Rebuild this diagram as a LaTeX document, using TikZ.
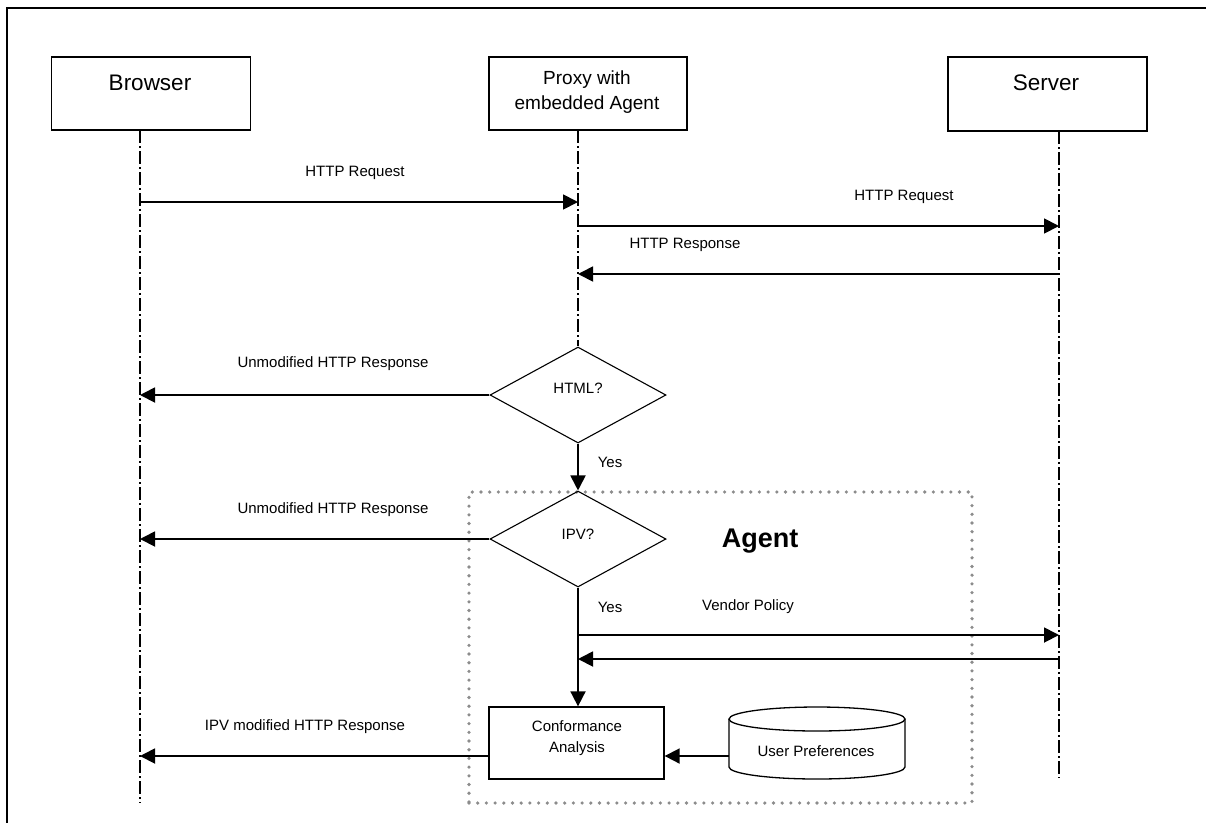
\documentclass[tikz,border=0pt]{standalone}
\usepackage{fontspec}
\setmainfont{Liberation Sans}
\usetikzlibrary{arrows.meta,shapes.geometric}
\begin{document}
\begin{tikzpicture}[x=1pt,y=-1pt,
  box/.style={draw,line width=1.3pt,inner sep=0pt},
  life/.style={line width=1.2pt,dash pattern=on 13pt off 3pt on 1.5pt off 3.5pt},
  msg/.style={line width=1.8pt,-{Triangle[length=15pt,width=15pt]}},
  lbl/.style={font=\fontsize{15}{18}\selectfont,inner sep=0pt},
  big/.style={font=\fontsize{22.5}{26}\selectfont,inner sep=0pt},
  dec/.style={diamond,draw,line width=1.1pt,minimum width=176pt,minimum height=96pt,inner sep=0pt,aspect=1.83},
  agentbox/.style={draw=black!45,line width=3.6pt,line cap=round,dash pattern=on 0pt off 8.7pt,inner sep=0pt},
]
\useasboundingbox (0,0) rectangle (1206,823);
% outer frame (top and left edges)
\draw[line width=1.3pt] (1206,8) -- (7,8) -- (7,823);

% agent region
\node[agentbox,minimum width=503pt,minimum height=311pt] (agent) at (720.5,647.5) {};
\node[font=\bfseries\fontsize{27}{30}\selectfont,inner sep=0pt] (agenttxt) at (760,541) {Agent};

% participants
\node[box,minimum width=199pt,minimum height=73pt] (browser) at (151,93.5) {};
\node[big] (browsertxt) at (150,83) {Browser};
\node[box,minimum width=198pt,minimum height=73pt] (proxy) at (588,93.5) {};
\node[font=\fontsize{19}{25}\selectfont,align=center,inner sep=0pt] (proxytxt) at (587,92.5) {Proxy with\\embedded Agent};
\node[box,minimum width=199pt,minimum height=74pt] (server) at (1047.5,94) {};
\node[big] (servertxt) at (1046,83) {Server};

% lifeline coordinates
\coordinate (bA) at (140,130);  \coordinate (bZ) at (140,803);
\coordinate (pA) at (578,130);
\coordinate (sA) at (1059,131); \coordinate (sZ) at (1059,778);

% decisions
\node[dec] (html) at (578,395) {};
\node[lbl] (htmltxt) at (578,388) {HTML?};
\node[dec] (ipv) at (578,539) {};
\node[lbl] (ipvtxt) at (578,534) {IPV?};

% lifelines
\draw[life] (bA) -- (bZ);
\draw[life] (pA) -- (html.north);
\draw[life] (sA) -- (sZ);

% message coordinates
\coordinate (b1) at (140,202);  \coordinate (p1) at (578,202);
\coordinate (p2) at (578,226);  \coordinate (s2) at (1059,226);
\coordinate (s3) at (1059,274); \coordinate (p3) at (578,274);
\coordinate (b4) at (140,395);
\coordinate (b5) at (140,539);
\coordinate (p6) at (578,635);  \coordinate (s6) at (1059,635);
\coordinate (s7) at (1059,659); \coordinate (p7) at (578,659);
\coordinate (b8) at (140,756);

% conformance and preferences
\node[box,minimum width=175pt,minimum height=72pt] (conf) at (576.5,743) {};
\node[font=\fontsize{15}{21}\selectfont,align=center,inner sep=0pt] (conftxt) at (577,738) {Conformance\\Analysis};
\node[inner sep=0pt,minimum width=176pt,minimum height=72pt] (pref) at (817,743) {};
\draw[line width=1.3pt,fill=white] (817,719) ellipse [x radius=88, y radius=12];
\draw[line width=1.3pt] (729,719) -- (729,767) arc[start angle=180,end angle=0,x radius=88,y radius=12] -- (905,719);
\node[lbl] (preftxt) at (816,751) {User Preferences};

% messages
\draw[msg] (b1) -- (p1);
\node[lbl] (l1) at (355,173) {HTTP Request};
\draw[msg] (p2) -- (s2);
\node[lbl] (l2) at (904,197) {HTTP Request};
\draw[msg] (s3) -- (p3);
\node[lbl] (l3) at (685,245) {HTTP Response};

\draw[msg] (html.west) -- (b4);
\node[lbl] (l4) at (333,364) {Unmodified HTTP Response};
\draw[msg] (html.south) -- (ipv.north);
\node[lbl] (yes1) at (610,462) {Yes};

\draw[msg] (ipv.west) -- (b5);
\node[lbl] (l5) at (333,510) {Unmodified HTTP Response};

\draw[msg] (ipv.south) -- (ipv.south |- conf.north);
\node[lbl] (yes2) at (610,607) {Yes};
\draw[msg] (p6) -- (s6);
\node[lbl] (l6) at (748,607) {Vendor Policy};
\draw[msg] (s7) -- (p7);

\draw[msg] (pref.west |- b8) -- (conf.east |- b8);
\draw[msg] (conf.west |- b8) -- (b8);
\node[lbl] (l8) at (305,727) {IPV modified HTTP Response};
\end{tikzpicture}
\end{document}
